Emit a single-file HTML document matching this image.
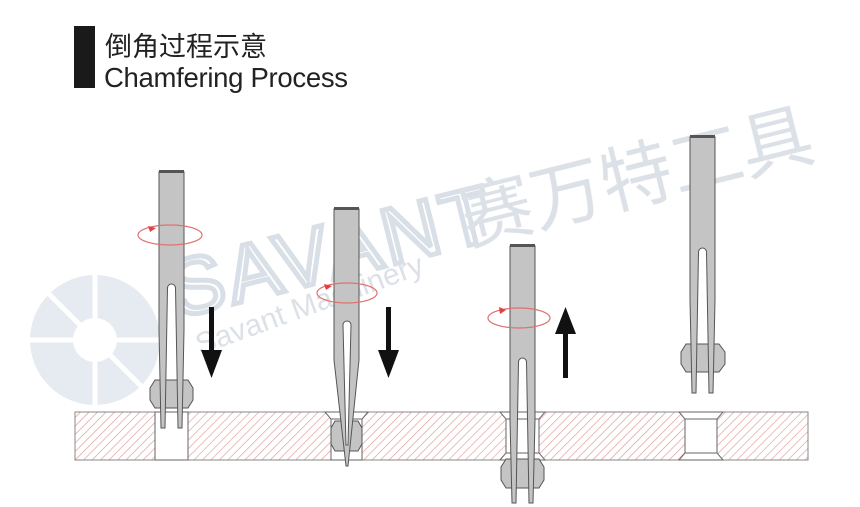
<!DOCTYPE html>
<html><head><meta charset="utf-8"><style>
html,body{margin:0;padding:0;background:#fff;width:860px;height:507px;overflow:hidden}
</style></head><body>
<svg width="860" height="507" viewBox="0 0 860 507" xmlns="http://www.w3.org/2000/svg">
<defs>
<pattern id="h" patternUnits="userSpaceOnUse" width="6" height="6" patternTransform="rotate(45)">
<rect width="6" height="6" fill="#fff"/>
<line x1="0" y1="0" x2="0" y2="6" stroke="#dd9a9a" stroke-width="1.3"/>
</pattern>
</defs>
<rect x="74" y="26" width="21" height="62" fill="#1a1a1a"/>
<text x="105" y="56" font-family="'Liberation Sans','Noto Sans CJK SC',sans-serif" font-size="27" fill="#222">倒角过程示意</text>
<text x="104" y="87" font-family="'Liberation Sans',sans-serif" font-size="27.5" fill="#222" letter-spacing="-0.3">Chamfering Process</text>

<rect x="75" y="412" width="733" height="48" fill="url(#h)" stroke="#888" stroke-width="1"/>
<rect x="155" y="412" width="33" height="48" fill="#fff" stroke="#666" stroke-width="1"/>
<polygon points="325,412 368,412 362,419 362,460 331,460 331,419" fill="#fff" stroke="#666"/>
<line x1="331" y1="419" x2="362" y2="419" stroke="#666"/>
<polygon points="500,412 545,412 539,419 539,453 545,460 500,460 506,453 506,419" fill="#fff" stroke="#666"/>
<line x1="506" y1="419" x2="539" y2="419" stroke="#666"/><line x1="506" y1="453" x2="539" y2="453" stroke="#666"/>
<polygon points="679,412 723,412 717,419 717,453 723,460 679,460 685,453 685,419" fill="#fff" stroke="#666"/>
<line x1="685" y1="419" x2="717" y2="419" stroke="#666"/><line x1="685" y1="453" x2="717" y2="453" stroke="#666"/>

<g opacity="0.3" fill="#8a9bb0">
<circle cx="95" cy="340" r="65" fill="#a9bccb"/>
<circle cx="95" cy="340" r="22" fill="#fff"/>
<g stroke="#fff" stroke-width="5"><line x1="95" y1="275" x2="95" y2="405"/><line x1="30" y1="340" x2="160" y2="340"/><line x1="49" y1="294" x2="141" y2="386"/></g>
<text x="178" y="318" font-family="'Liberation Sans',sans-serif" font-size="80" transform="rotate(-14 178 318)" fill="none" stroke="#7f93ab" stroke-width="5" letter-spacing="4">SAVANT</text>
<text x="468" y="245" font-family="'Noto Sans CJK SC',sans-serif" font-size="72" transform="rotate(-14 468 245)">赛万特工具</text>
<text x="200" y="355" font-family="'Liberation Sans',sans-serif" font-size="30" transform="rotate(-20 200 355)">Savant Machinery</text>
</g>

<g stroke="#555" stroke-width="1" fill="#c4c4c4">
<polygon points="155,380 188,380 193,388 193,400 188,408 155,408 150,400 150,388"/>
<path d="M159,172 H184 V330 L182,428 H178 L175.5,288 A4,4 0 0 0 167.5,288 L165,428 H161 L159,330 Z"/>
<polygon points="335,421 358,421 362,428 362,444 358,451 335,451 331,444 331,428"/>
<path d="M334,209 H359 V360 L348,466 H346 L334,360 Z"/>
<path d="M343,325 A4,4 0 0 1 351,325 L348,445 H346 Z" fill="#fff"/>
<polygon points="506,459 539,459 544,467 544,480 539,488 506,488 501,480 501,467"/>
<path d="M510,246 H535 V420 L533,503 H529 L526.5,362 A4,4 0 0 0 518.5,362 L516,503 H512 L510,420 Z"/>
<polygon points="686,344 719,344 725,352 725,364 719,372 686,372 681,364 681,352"/>
<path d="M690,137 H715 V300 L713,393 H709 L706.5,252 A4,4 0 0 0 698.5,252 L696,393 H692 L690,300 Z"/>
</g>
<g fill="#555"><rect x="159" y="170" width="25" height="3"/><rect x="334" y="207" width="25" height="3"/><rect x="510" y="244" width="25" height="3"/><rect x="690" y="135" width="25" height="3"/></g>

<g fill="none" stroke="#e07070" stroke-width="1.2">
<ellipse cx="170" cy="235" rx="32" ry="10"/>
<ellipse cx="347" cy="293" rx="30" ry="10"/>
<ellipse cx="519" cy="318" rx="31" ry="10"/>
</g>
<g fill="#e04040">
<polygon points="148,226 156,228 150,232"/>
<polygon points="324,284 332,286 326,290"/>
<polygon points="499,307 506,310 500,314"/>
</g>

<g fill="#111">
<rect x="209" y="307" width="5" height="45"/><polygon points="201,350 222,350 211.5,378"/>
<rect x="386" y="307" width="5" height="45"/><polygon points="378,350 399,350 388.5,378"/>
<rect x="563" y="332" width="5" height="46"/><polygon points="555,334 576,334 565.5,307"/>
</g>
</svg>
</body></html>
